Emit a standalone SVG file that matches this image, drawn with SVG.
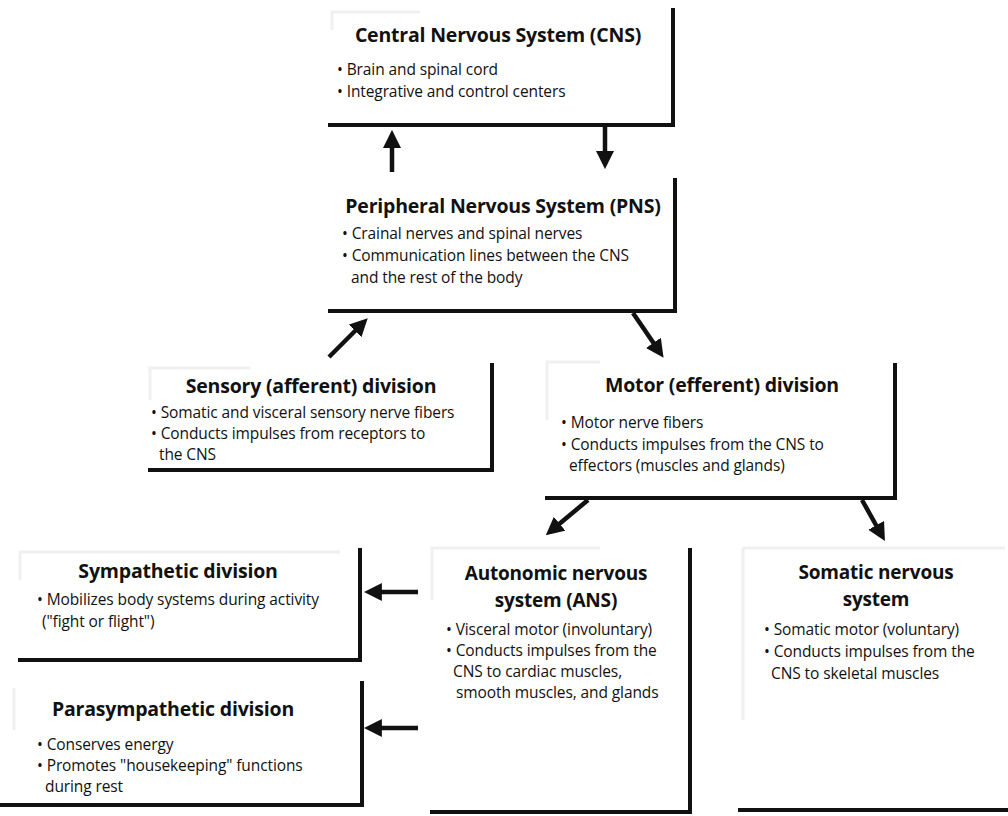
<svg xmlns="http://www.w3.org/2000/svg" width="1008" height="816" viewBox="0 0 1008 816">
<style>
.bx{fill:none;stroke:#111;stroke-width:4;stroke-linecap:square}
.sh{fill:none;stroke:#f0f0f0;stroke-width:3}
.t{font-family:"Open Sans","Liberation Sans",sans-serif;font-weight:bold;font-size:19.5px;fill:#111;text-anchor:middle;letter-spacing:-0.2px}
.t2{font-size:19px}
.b{font-family:"Open Sans","Liberation Sans",sans-serif;font-size:15.5px;fill:#111;letter-spacing:-0.1px}
.ar{stroke:#111;stroke-width:4.5;fill:none}
</style>
<defs>
<marker id="ah" markerWidth="4" markerHeight="4" refX="2.2" refY="2" orient="auto" markerUnits="strokeWidth">
<path d="M0,0 L4,2 L0,4 z" fill="#111"/>
</marker>
</defs>
<rect width="1008" height="816" fill="#fff"/>

<g id="cns">
<path class="sh" d="M332,30 L332,12 L420,12"/>
<path class="bx" d="M673,10 L673,125 L330,125"/>
<text class="t" x="498" y="42">Central Nervous System (CNS)</text>
<text class="b" x="337" y="75">• Brain and spinal cord</text>
<text class="b" x="337" y="97">• Integrative and control centers</text>
</g>

<g id="pns">
<path class="bx" d="M675,180 L675,311 L330,311"/>
<text class="t" x="503" y="213">Peripheral Nervous System (PNS)</text>
<text class="b" x="342" y="239">• Crainal nerves and spinal nerves</text>
<text class="b" x="342" y="261">• Communication lines between the CNS</text>
<text class="b" x="351" y="283">and the rest of the body</text>
</g>

<g id="sensory">
<path class="sh" d="M150,400 L150,368 L250,368"/>
<path class="bx" d="M492,365 L492,470 L150,470"/>
<text class="t" x="311" y="393">Sensory (afferent) division</text>
<text class="b" x="151" y="418">• Somatic and visceral sensory nerve fibers</text>
<text class="b" x="151" y="439">• Conducts impulses from receptors to</text>
<text class="b" x="159" y="460">the CNS</text>
</g>

<g id="motor">
<path class="sh" d="M547,420 L547,362 L600,362"/>
<path class="bx" d="M895,365 L895,498 L547,498"/>
<text class="t" x="722" y="392">Motor (efferent) division</text>
<text class="b" x="561" y="428">• Motor nerve fibers</text>
<text class="b" x="561" y="450">• Conducts impulses from the CNS to</text>
<text class="b" x="569" y="471">effectors (muscles and glands)</text>
</g>

<g id="sympathetic">
<path class="sh" d="M20,580 L20,552 L340,552"/>
<path class="bx" d="M360,550 L360,660 L20,660"/>
<text class="t" x="178" y="578">Sympathetic division</text>
<text class="b" x="37" y="605">• Mobilizes body systems during activity</text>
<text class="b" x="42" y="627">("fight or flight")</text>
</g>

<g id="parasympathetic">
<path class="sh" d="M14,688 L14,730"/>
<path class="bx" d="M362,683 L362,805 L0,805"/>
<text class="t" x="173" y="716">Parasympathetic division</text>
<text class="b" x="37" y="750">• Conserves energy</text>
<text class="b" x="37" y="771">• Promotes "housekeeping" functions</text>
<text class="b" x="45" y="792">during rest</text>
</g>

<g id="ans">
<path class="sh" d="M432,600 L432,548 L600,548"/>
<path class="bx" d="M690,550 L690,812 L432,812"/>
<text class="t t2" x="556" y="580">Autonomic nervous</text>
<text class="t t2" x="556" y="607">system (ANS)</text>
<text class="b" x="446" y="635">• Visceral motor (involuntary)</text>
<text class="b" x="446" y="656">• Conducts impulses from the</text>
<text class="b" x="453" y="677">CNS to cardiac muscles,</text>
<text class="b" x="456" y="698">smooth muscles, and glands</text>
</g>

<g id="somatic">
<path class="sh" d="M743,720 L743,548 M743,548 L1005,548"/>
<path class="bx" d="M740,810 L1008,810"/>
<text class="t t2" x="876" y="579">Somatic nervous</text>
<text class="t t2" x="876" y="606">system</text>
<text class="b" x="764" y="635">• Somatic motor (voluntary)</text>
<text class="b" x="764" y="657">• Conducts impulses from the</text>
<text class="b" x="771" y="679">CNS to skeletal muscles</text>
</g>

<g id="connectors">
<line class="ar" x1="392" y1="172" x2="392" y2="138" marker-end="url(#ah)"/>
<line class="ar" x1="605" y1="127" x2="605" y2="161" marker-end="url(#ah)"/>
<line class="ar" x1="329" y1="357" x2="362" y2="324" marker-end="url(#ah)"/>
<line class="ar" x1="633" y1="313" x2="659" y2="351" marker-end="url(#ah)"/>
<line class="ar" x1="588" y1="500" x2="552" y2="530" marker-end="url(#ah)"/>
<line class="ar" x1="862" y1="500" x2="881" y2="534" marker-end="url(#ah)"/>
<line class="ar" x1="418" y1="592" x2="372" y2="592" marker-end="url(#ah)"/>
<line class="ar" x1="418" y1="728" x2="372" y2="728" marker-end="url(#ah)"/>
</g>
</svg>
